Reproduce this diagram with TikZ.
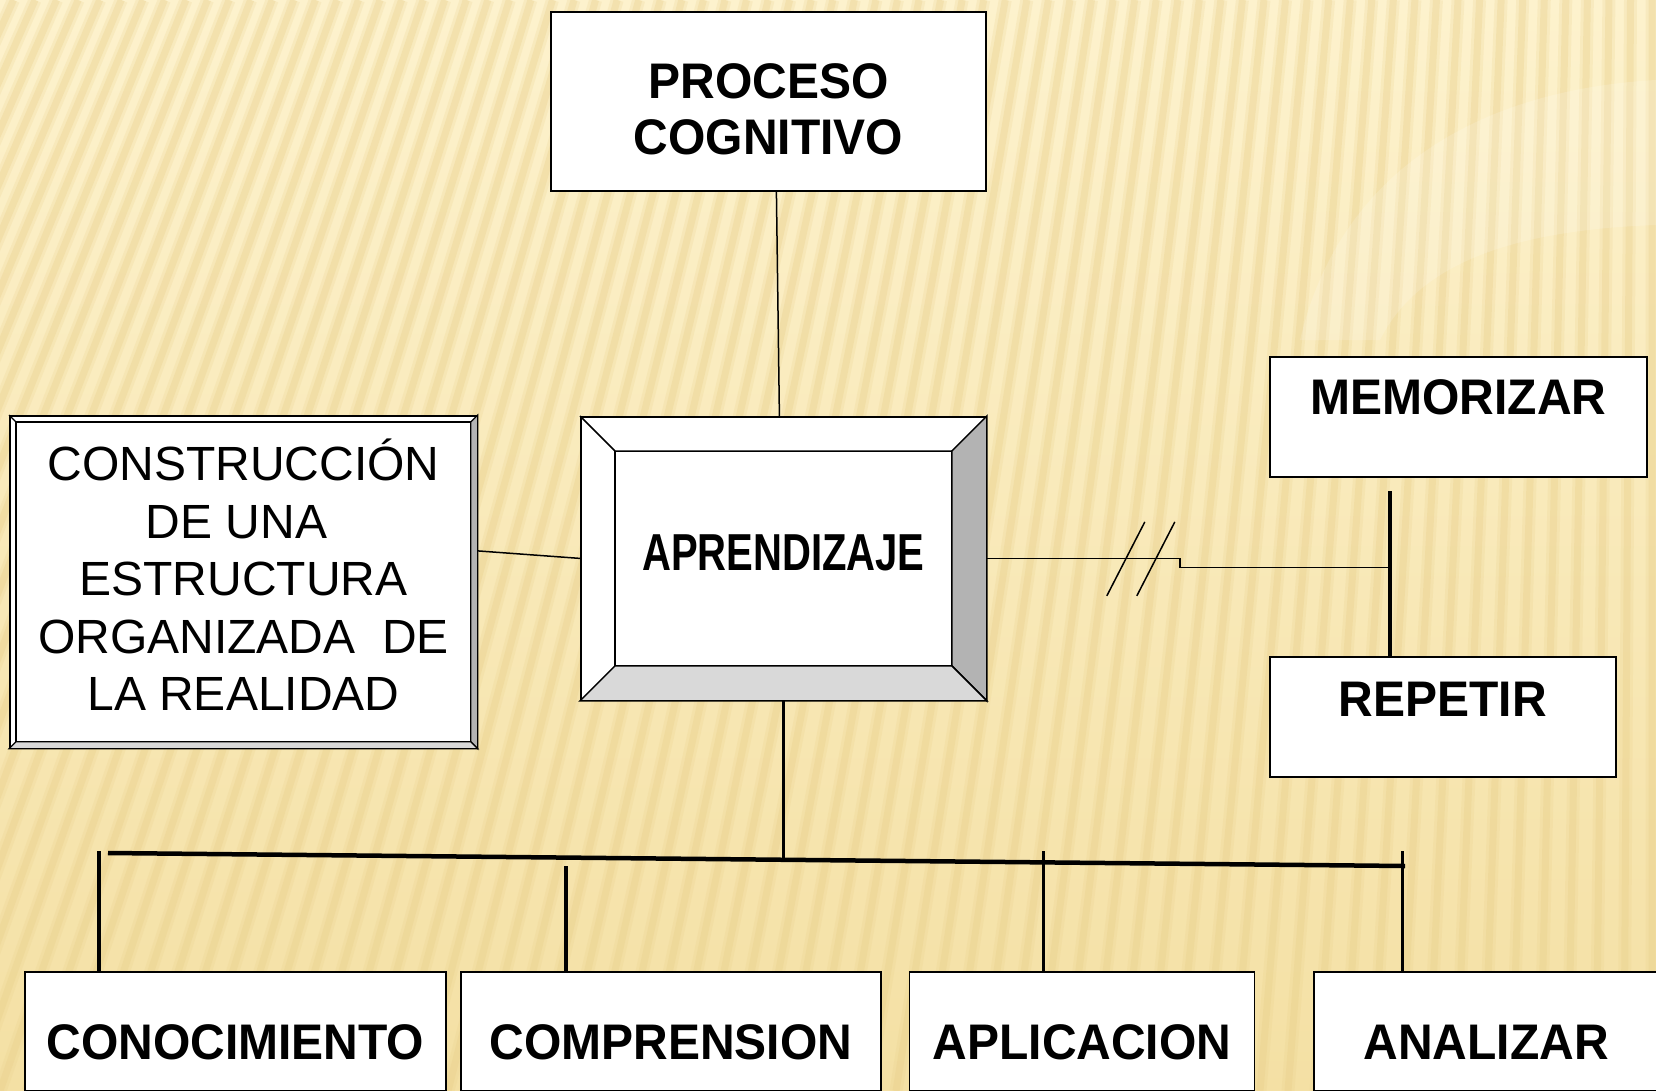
\documentclass[tikz,border=0pt]{standalone}
\usepackage{fontspec}
\setmainfont{Liberation Sans}
\usepackage{graphicx}
\usetikzlibrary{calc,positioning}

\definecolor{fondo}{RGB}{244,224,164}
\definecolor{fondoclaro}{RGB}{253,242,205}
\definecolor{raya}{RGB}{232,206,136}
\definecolor{biselA}{RGB}{179,179,179}
\definecolor{biselB}{RGB}{217,217,217}

\newcommand{\ancho}[1]{\scalebox{0.96}[1]{#1}}

\begin{document}
\begin{tikzpicture}[x=1pt,y=-1pt,
        caja/.style={draw=black,line width=1.8pt,fill=white,inner sep=0pt,anchor=north west},
        negrita/.style={font=\bfseries\fontsize{50}{56}\selectfont},
        texto/.style={font=\fontsize{48}{57.6}\selectfont,align=center},
        linea/.style={line width=1.5pt},
        barra/.style={line width=3.5pt}]
        % Fondo rayado
        \useasboundingbox (0,0) rectangle (1656,1091);
        \shade[top color=fondoclaro,bottom color=fondo] (0,0) rectangle (1656,1091);
        \begin{scope}
            \clip (0,0) rectangle (1656,1091);
            \foreach \s [evaluate=\s as \t using 0.77*\s+380] in {-560,-532,...,1700} {
                \draw[raya,line width=13pt,opacity=0.2] (\s,1091) -- (\t,0);
                \draw[raya,line width=7pt,opacity=0.3] (\s,1091) -- (\t,0);
            }
            \fill[white,opacity=0.15] (1656,80) .. controls (1480,90) and (1340,170) .. (1300,340)
                -- (1380,340) .. controls (1420,260) and (1520,230) .. (1656,225) -- cycle;
        \end{scope}

        % Cajas
        \node[caja,minimum width=435pt,minimum height=179pt,negrita,align=center] (proceso) at (550,11)
            {\rule{0pt}{50pt}\ancho{PROCESO}\\\ancho{COGNITIVO}};
        \node[caja,minimum width=405pt,text height=153.5pt,text depth=129.5pt,
            font=\bfseries\fontsize{52}{60}\selectfont] (aprend) at (580,416)
            {\scalebox{0.77}[1]{APRENDIZAJE}};
        \node[caja,minimum width=467pt,minimum height=332pt,texto] (constr) at (9,415)
            {CONSTRUCCIÓN\\DE UNA\kern14pt\\ESTRUCTURA\\ORGANIZADA~~DE\\LA REALIDAD\rule[-14pt]{0pt}{14pt}};
        \node[caja,minimum width=377pt,text height=58pt,text depth=62pt,negrita] (memo) at (1269,356)
            {\ancho{MEMORIZAR}};
        \node[caja,minimum width=346pt,text height=60pt,text depth=60pt,negrita] (repe) at (1269,656)
            {\ancho{REPETIR}};

        \node[caja,minimum width=421pt,text height=88pt,text depth=31pt,negrita] (cono) at (24,971)
            {\ancho{CONOCIMIENTO}};
        \node[caja,minimum width=420pt,text height=88pt,text depth=31pt,negrita,right=13pt of cono] (comp)
            {\ancho{COMPRENSION}};
        \node[caja,minimum width=345pt,text height=88pt,text depth=31pt,negrita,right=27pt of comp] (apli)
            {\ancho{APLICACION}};
        \node[caja,minimum width=344pt,text height=88pt,text depth=31pt,negrita,right=58pt of apli] (anal)
            {\ancho{ANALIZAR}};

        % Biseles
        \fill[biselA,draw=black,linea] (aprend.north east) -- (aprend.south east) -- ++(-35,-35)
            -- ($(aprend.north east)+(-35,35)$) -- cycle;
        \fill[biselB,draw=black,linea] (aprend.south west) -- (aprend.south east) -- ++(-35,-35)
            -- ($(aprend.south west)+(35,-35)$) -- cycle;
        \draw[linea] (aprend.north west) -- ++(35,35) -- ($(aprend.north east)+(-35,35)$);
        \draw[linea] ($(aprend.north west)+(35,35)$) -- ($(aprend.south west)+(35,-35)$);

        \fill[biselA,draw=black,line width=1.2pt] (constr.north east) -- (constr.south east) -- ++(-7,-7)
            -- ($(constr.north east)+(-7,7)$) -- cycle;
        \fill[biselB,draw=black,line width=1.2pt] (constr.south west) -- (constr.south east) -- ++(-7,-7)
            -- ($(constr.south west)+(7,-7)$) -- cycle;
        \draw[line width=1.2pt] ($(constr.south west)+(7,-7)$) -- ($(constr.north west)+(7,7)$)
            -- ($(constr.north east)+(-7,7)$);
        \draw[line width=1.2pt] (constr.north west) -- ++(7,7);

        % Conectores
        \draw[linea] ([xshift=8pt]proceso.south) -- ([xshift=-4pt]aprend.north);
        \draw[linea] ([yshift=31pt]constr.east) -- (aprend.west);

        \coordinate (eje) at (1390,491);
        \draw[barra,line width=4pt] (eje) -- (eje |- repe.north);
        \draw[linea] (aprend.east) -- ++(193,0) -- ++(0,9) -- ++(212,0);
        \foreach \d in {0,30} {
            \draw[linea] ($(aprend.east)+(120+\d,37.5)$) -- ++(38,-74);
        }

        \coordinate (busI) at (108,853);
        \coordinate (busD) at (1405,866);
        \draw[line width=4.5pt] (busI) -- (busD);
        \draw[line width=3pt] (aprend.south) -- ++(0,161);
        \draw[barra] ([xshift=75pt]cono.north west) -- ++(0,-120);
        \draw[barra] ([xshift=106pt]comp.north west) -- ++(0,-105);
        \draw[barra] ([xshift=135pt]apli.north west) -- ++(0,-120);
        \draw[barra] ([xshift=89pt]anal.north west) -- ++(0,-120);
    \end{tikzpicture}
\end{document}
